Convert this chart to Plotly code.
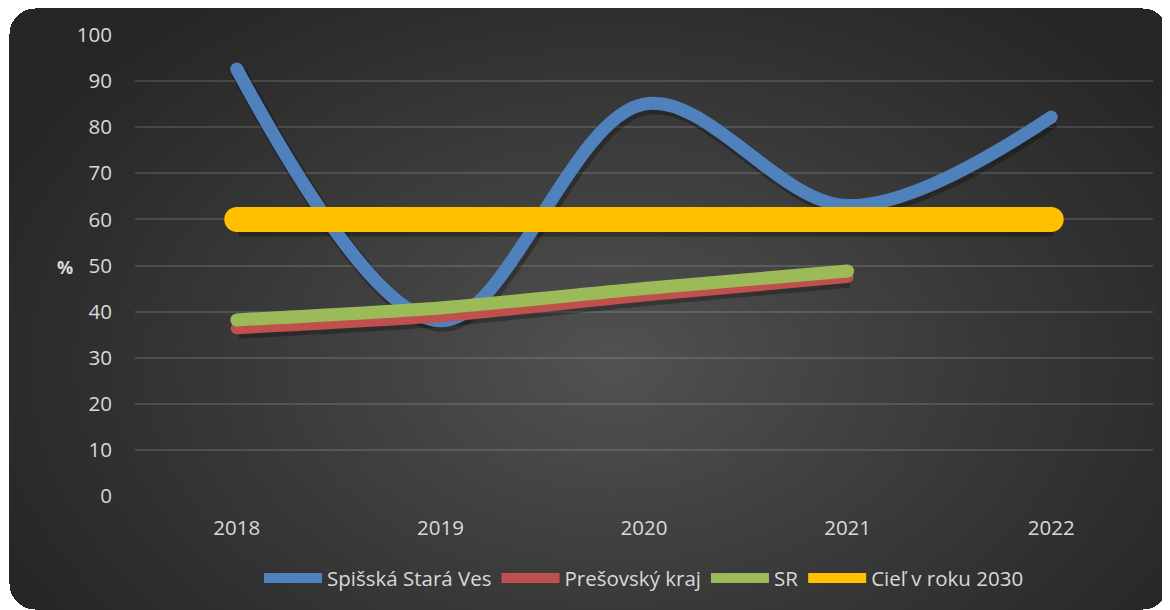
import base64, zlib, struct
import numpy as np
import plotly.graph_objects as go

# ---------------- data ----------------
years = ["2018", "2019", "2020", "2021", "2022"]
spisska = [92.6, 38.0, 85.0, 63.0, 82.2]
presov = [36.4, 39.0, 43.5, 47.5, None]
sr = [38.2, 40.8, 45.0, 48.8, None]
ciel = [60, 60, 60, 60, 60]
names = ["Spišská Stará Ves", "Prešovský kraj", "SR", "Cieľ v roku 2030"]
y_ticks = [0, 10, 20, 30, 40, 50, 60, 70, 80, 90, 100]

# ---------------- styling ----------------
# the page adds an 8px body margin, so the figure is sized to fit the window
W, H = 1162, 602
ML, MR, MT, MB = 127, 17, 27, 114
PW, PH = W - ML - MR, H - MT - MB
colors = ["#4f81bd", "#c0504d", "#9bbb59", "#ffc000"]
widths = [13, 12, 13, 25]
smooth = [1.0, 0.6, 0.6, 0.0]
txt = "#d9d9d9"
font = "Open Sans"
SHX, SHY = 2, 3  # shadow offset in pixels


def make_png(rgba):
    h, w, _ = rgba.shape
    raw = b"".join(b"\x00" + rgba[r].tobytes() for r in range(h))

    def chunk(tag, data):
        c = struct.pack(">I", len(data)) + tag + data
        return c + struct.pack(">I", zlib.crc32(tag + data) & 0xFFFFFFFF)

    png = b"\x89PNG\r\n\x1a\n"
    png += chunk(b"IHDR", struct.pack(">IIBBBBB", w, h, 8, 6, 0, 0, 0))
    png += chunk(b"IDAT", zlib.compress(raw, 9))
    png += chunk(b"IEND", b"")
    return "data:image/png;base64," + base64.b64encode(png).decode()


# background panel: radial dark gradient with rounded corners
yy, xx = np.mgrid[0:H, 0:W].astype(float)
d = np.sqrt(((xx - 605) / 700.0) ** 2 + ((yy - 355) / 470.0) ** 2)
g = 38 + 44 * (1 - np.clip(d, 0, 1)) ** 1.1
x0, x1, y0, y1, rad = 1, 1160, 0, 601, 26
inside = (xx >= x0) & (xx <= x1) & (yy >= y0) & (yy <= y1)
for cx, cy in [(x0 + rad, y0 + rad), (x1 - rad, y0 + rad), (x0 + rad, y1 - rad), (x1 - rad, y1 - rad)]:
    corner = ((xx < x0 + rad) if cx < W / 2 else (xx > x1 - rad)) & ((yy < y0 + rad) if cy < H / 2 else (yy > y1 - rad))
    inside &= ~(corner & ((xx - cx) ** 2 + (yy - cy) ** 2 > rad ** 2))
rgba = np.zeros((H, W, 4), dtype=np.uint8)
rgba[..., 0] = rgba[..., 1] = rgba[..., 2] = g.astype(np.uint8)
rgba[..., 3] = np.where(inside, 255, 0).astype(np.uint8)
bg_uri = make_png(rgba)

fig = go.Figure()
all_series = [spisska, presov, sr, ciel]

# soft shadows on a hidden, slightly shifted pair of axes (drawn first = below)
for i, vals in enumerate(all_series):
    fig.add_trace(go.Scatter(
        x=years, y=vals, mode="lines", xaxis="x", yaxis="y",
        line=dict(color="rgba(0,0,0,0.28)", width=widths[i] + 3, shape="spline", smoothing=smooth[i]),
        showlegend=False, hoverinfo="skip",
    ))

for i, (name, vals) in enumerate(zip(names, all_series)):
    fig.add_trace(go.Scatter(
        x=years, y=vals, name=name, mode="lines", xaxis="x2", yaxis="y2",
        line=dict(color=colors[i], width=widths[i], shape="spline", smoothing=smooth[i]),
        hoverinfo="skip",
    ))
    idx = [k for k, v in enumerate(vals) if v is not None]
    ends = [idx[0], idx[-1]]
    fig.add_trace(go.Scatter(
        x=[years[k] for k in ends], y=[vals[k] for k in ends], mode="markers",
        xaxis="x2", yaxis="y2",
        marker=dict(color=colors[i], size=widths[i], line=dict(width=0)),
        showlegend=False, hoverinfo="skip",
    ))

dx = SHX * 5.0 / PW
dy = SHY * 100.0 / PH
fig.update_layout(
    width=W, height=H,
    margin=dict(l=ML, r=MR, t=MT, b=MB),
    paper_bgcolor="white", plot_bgcolor="rgba(0,0,0,0)",
    font=dict(family=font, color=txt, size=20),
    showlegend=True,
    legend=dict(orientation="h", x=0.5, xanchor="center", y=-0.178, yanchor="middle",
                font=dict(size=20.5, color=txt, family=font), bgcolor="rgba(0,0,0,0)",
                itemwidth=58, traceorder="normal"),
    images=[dict(source=bg_uri, xref="paper", yref="paper",
                 x=-ML / PW, y=1 + MT / PH, sizex=W / PW, sizey=H / PH,
                 xanchor="left", yanchor="top", sizing="stretch", layer="below")],
    annotations=[dict(text="<b>%</b>", xref="paper", yref="paper",
                      x=(47 - ML) / PW, y=(488 - 259) / PH, showarrow=False,
                      font=dict(size=18, color=txt, family=font))],
    xaxis=dict(type="category", range=[-0.5 - dx, 4.5 - dx], visible=False, fixedrange=True),
    yaxis=dict(range=[0 + dy, 100 + dy], visible=False, fixedrange=True),
    xaxis2=dict(type="category", range=[-0.5, 4.5], overlaying="x", showgrid=False, zeroline=False,
                showline=False, ticks="", tickfont=dict(size=20.5, color=txt),
                ticklabelstandoff=17, fixedrange=True),
    yaxis2=dict(range=[0, 100], tickvals=y_ticks, overlaying="y", side="left", showgrid=True,
                gridcolor="rgba(255,255,255,0.13)", gridwidth=2, zeroline=False,
                showline=False, ticks="", tickfont=dict(size=20.5, color=txt),
                ticklabelstandoff=22, fixedrange=True),
)

fig.write_html("out.html")
